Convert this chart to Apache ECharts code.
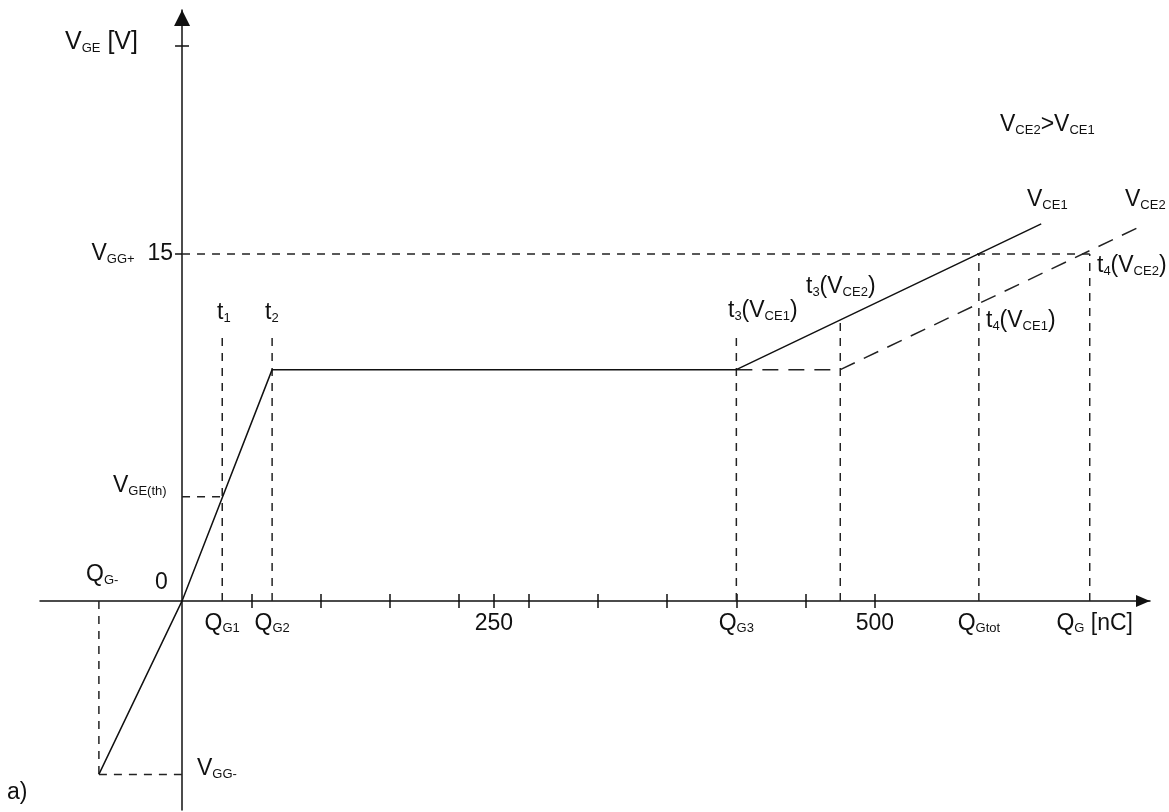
<!DOCTYPE html>
<html><head><meta charset="utf-8">
<script src="https://cdn.jsdelivr.net/npm/echarts@6/dist/echarts.min.js"></script>
<style>html,body{margin:0;padding:0;background:#fff}#c{width:1169px;height:812px}</style>
</head><body><div id="c"></div>
<script>
// ---- data: gate charge Q_G [nC] vs gate-emitter voltage V_GE [V] ----
const curveQ_VCE1 = [-60, 0, 65, 400, 620];
const curveV_VCE1 = [-7.5, 0, 10, 10, 16.3];
const curveQ_VCE2 = [400, 475, 694];
const curveV_VCE2 = [10, 10, 16.26];
// characteristic charges / voltages
const Q_Gminus = -60, Q_G1 = 29, Q_G2 = 65, Q_G3 = 400, Q_G3b = 475, Q_Gtot = 575, Q_G = 655;
const V_GGplus = 15, V_GGminus = -7.5, V_GEth = 4.5, V_tMark = 11.4, V_t3b = 12.3;
// axis ticks and labels
const xTickValues = [50, 100, 150, 200, 225, 250, 300, 350, 400, 450, 500];
const xLabelValues = [Q_G1, Q_G2, 225, Q_G3, 500, Q_Gtot, Q_G];
const xLabelTexts = ['{m|Q}{s|G1}', '{m|Q}{s|G2}', '{m|250}', '{m|Q}{s|G3}', '{m|500}', '{m|Q}{s|Gtot}', '{m|Q}{s|G}{m| [nC]}'];
const yTickLeft = [15, 24];
const yTickRight = [24];
const yLabelValues = [V_GGplus];
const yLabelTexts = ['{m|V}{s|GG+}{m|  15}'];

const FONT = '"Liberation Sans", Arial, sans-serif';
const INK = '#111';
const FS = 23, FSS = 13;

function rich(fs) {
  return {
    m: { fontSize: fs, fontFamily: FONT, color: INK, fill: INK, lineHeight: fs, opacity: 1 },
    s: { fontSize: FSS, fontFamily: FONT, color: INK, fill: INK, lineHeight: 9, verticalAlign: 'bottom', opacity: 1 }
  };
}
function txt(left, baseline, text, fs) {
  fs = fs || FS;
  return {
    type: 'text', x: left, y: baseline - 0.35 * fs, z: 100,
    style: {
      text: text, rich: rich(fs), font: fs + 'px ' + FONT, fontSize: fs, fontFamily: FONT,
      fill: INK, align: 'left', verticalAlign: 'middle', textAlign: 'left', textVerticalAlign: 'middle'
    }
  };
}

const guideSegments = [
  [[0, V_GGplus], [Q_G, V_GGplus]],
  [[Q_Gtot, 0], [Q_Gtot, V_GGplus]],
  [[Q_G, 0], [Q_G, V_GGplus]],
  [[Q_G1, 0], [Q_G1, V_tMark]],
  [[Q_G2, 0], [Q_G2, V_tMark]],
  [[Q_G3, 0], [Q_G3, V_tMark]],
  [[Q_G3b, 0], [Q_G3b, V_t3b]],
  [[0, V_GEth], [Q_G1, V_GEth]],
  [[Q_Gminus, 0], [Q_Gminus, V_GGminus]],
  [[Q_Gminus, V_GGminus], [0, V_GGminus]]
];

const xMin = -102.5, xMax = 698.5, yMin = -9.04, yMax = 25.55;
const lineW = 1.5;

const series = [];
guideSegments.forEach(function (seg) {
  series.push({ type: 'line', data: seg, symbol: 'none', silent: true,
    lineStyle: { color: '#222', width: lineW, type: [8, 7] }, z: 2 });
});
series.push({ type: 'line', name: 'VCE2', data: curveQ_VCE2.map((q, i) => [q, curveV_VCE2[i]]),
  symbol: 'none', lineStyle: { color: '#222', width: lineW, type: [16, 10] }, z: 3 });
series.push({ type: 'line', name: 'VCE1', data: curveQ_VCE1.map((q, i) => [q, curveV_VCE1[i]]),
  symbol: 'none', lineStyle: { color: INK, width: lineW, type: 'solid' }, z: 4 });
// axis labels anchored on the axes (placed through the axis scales)
const labelCommon = { show: true, fontSize: FS, fontFamily: FONT, color: INK, opacity: 1,
  textBorderWidth: 0, rich: rich(FS) };
series.push({ type: 'scatter', name: 'xLabels', symbolSize: 0, silent: true, z: 10,
  itemStyle: { opacity: 1, color: INK },
  data: xLabelValues.map((v, i) => ({ value: [v, 0],
    label: i === xLabelValues.length - 1 ? { offset: [5, 0] } : {} })),
  label: Object.assign({ position: 'bottom', distance: 11,
    formatter: p => xLabelTexts[p.dataIndex] }, labelCommon) });
series.push({ type: 'scatter', name: 'yLabels', symbolSize: 0, silent: true, z: 10,
  itemStyle: { opacity: 1, color: INK },
  data: yLabelValues.map(v => [0, v]),
  label: Object.assign({ position: 'left', distance: 9,
    formatter: p => yLabelTexts[p.dataIndex] }, labelCommon) });

const axisLineStyle = { color: INK, width: 1.5 };

const option = {
  animation: false,
  backgroundColor: '#fff',
  grid: { left: 40, right: 19, top: 10, bottom: 2, containLabel: false, outerBoundsMode: 'none' },
  xAxis: [
    { type: 'value', min: xMin, max: xMax, position: 'bottom', splitLine: { show: false },
      axisLine: { show: true, onZero: true, onZeroAxisIndex: 0, lineStyle: axisLineStyle,
        symbol: ['none', 'triangle'], symbolSize: [12, 14], symbolOffset: [0, -7] },
      axisTick: { show: true, length: 7, inside: false, customValues: xTickValues, lineStyle: axisLineStyle },
      axisLabel: { show: false } },
    { type: 'value', min: xMin, max: xMax, position: 'top', splitLine: { show: false },
      axisLine: { show: false, onZero: true, onZeroAxisIndex: 0 },
      axisTick: { show: true, length: 7, inside: false, customValues: xTickValues, lineStyle: axisLineStyle },
      axisLabel: { show: false } }
  ],
  yAxis: [
    { type: 'value', min: yMin, max: yMax, position: 'left', splitLine: { show: false },
      axisLine: { show: true, onZero: true, onZeroAxisIndex: 0, lineStyle: axisLineStyle,
        symbol: ['none', 'triangle'], symbolSize: [16, 16], symbolOffset: [0, -8] },
      axisTick: { show: true, length: 7, inside: false, customValues: yTickLeft, lineStyle: axisLineStyle },
      axisLabel: { show: false } },
    { type: 'value', min: yMin, max: yMax, position: 'right', splitLine: { show: false },
      axisLine: { show: false, onZero: true, onZeroAxisIndex: 0 },
      axisTick: { show: true, length: 7, inside: false, customValues: yTickRight, lineStyle: axisLineStyle },
      axisLabel: { show: false } }
  ],
  series: series,
  graphic: [
    txt(65, 51, '{m|V}{s|GE}{m| [V]}', 25),
    txt(217, 321, '{m|t}{s|1}'),
    txt(265, 321, '{m|t}{s|2}'),
    txt(113, 494, '{m|V}{s|GE(th)}'),
    txt(86, 583, '{m|Q}{s|G-}'),
    txt(155, 591, '{m|0}'),
    txt(197, 777, '{m|V}{s|GG-}'),
    txt(7, 801, '{m|a)}'),
    txt(728, 319, '{m|t}{s|3}{m|(V}{s|CE1}{m|)}'),
    txt(806, 295, '{m|t}{s|3}{m|(V}{s|CE2}{m|)}'),
    txt(1000, 133, '{m|V}{s|CE2}{m|>V}{s|CE1}'),
    txt(1027, 208, '{m|V}{s|CE1}'),
    txt(1125, 208, '{m|V}{s|CE2}'),
    txt(1097, 274, '{m|t}{s|4}{m|(V}{s|CE2}{m|)}'),
    txt(986, 329, '{m|t}{s|4}{m|(V}{s|CE1}{m|)}')
  ]
};
const chart = echarts.init(document.getElementById('c'), null, { renderer: 'canvas' });
chart.setOption(option);
</script>
</body></html>
